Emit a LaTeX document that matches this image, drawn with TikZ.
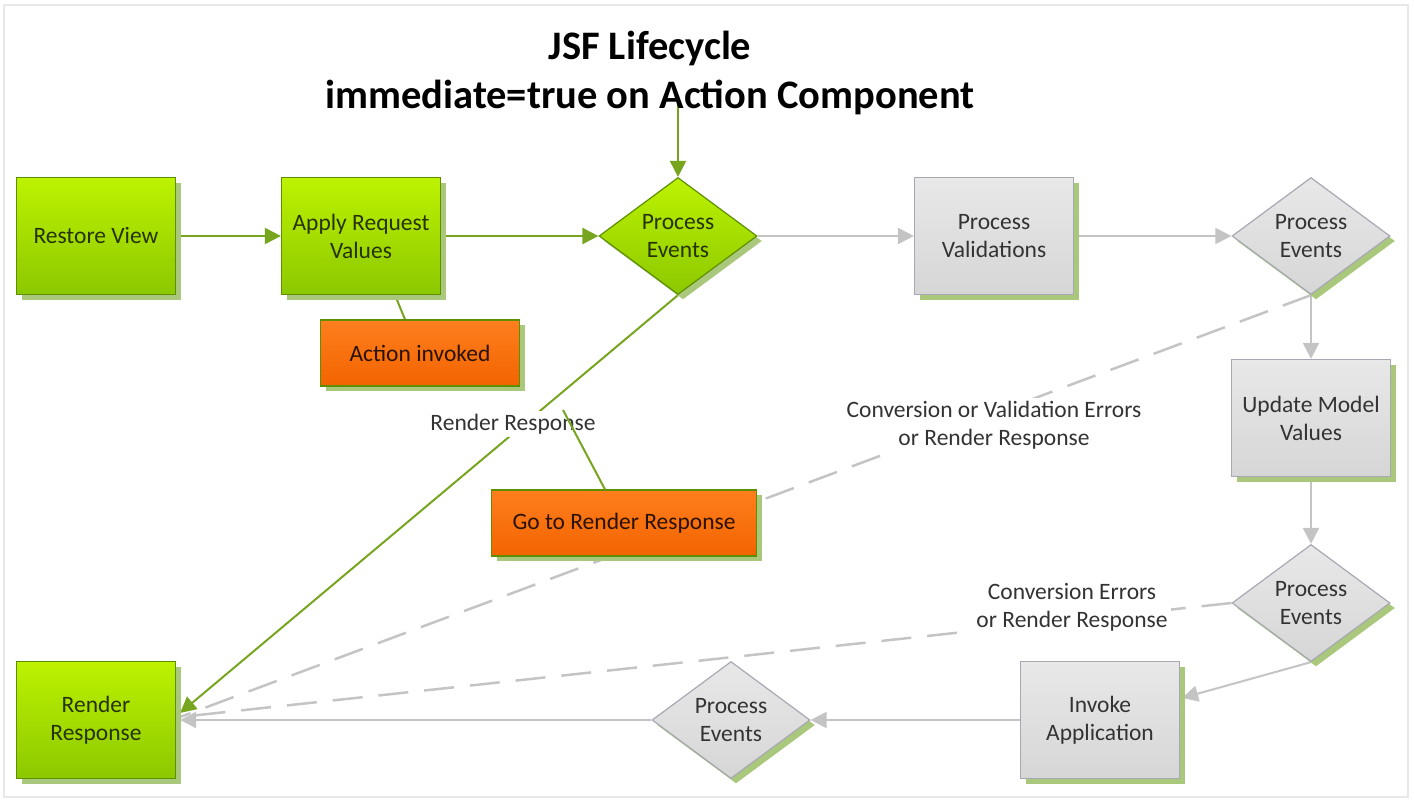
\documentclass[tikz,border=0pt]{standalone}
\usepackage{fontspec}
\setmainfont{Carlito}
\usetikzlibrary{shapes.geometric,arrows.meta,shadows,backgrounds,calc}
\definecolor{gtop}{HTML}{BDF200}
\definecolor{gbot}{HTML}{8CC800}
\definecolor{gborder}{HTML}{5E8F00}
\definecolor{gtext}{HTML}{263300}
\definecolor{gshadow}{HTML}{A9C87C}
\definecolor{otop}{HTML}{FF7E1E}
\definecolor{obot}{HTML}{F26400}
\definecolor{otext}{HTML}{2A1200}
\definecolor{ytop}{HTML}{E8E8E8}
\definecolor{ybot}{HTML}{D6D6D6}
\definecolor{yborder}{HTML}{A8A8B4}
\definecolor{ytext}{HTML}{333333}
\definecolor{gline}{HTML}{78A520}
\definecolor{yline}{HTML}{C4C4C4}
\definecolor{framec}{HTML}{E8E8E8}
\begin{document}
\begin{tikzpicture}[x=1pt,y=-1pt,
  nodefont/.style={font=\fontsize{23.5}{28}\selectfont},
  boxshape/.style={rectangle, minimum width=159pt, minimum height=117pt, inner sep=0pt, align=center, nodefont, line width=1.2pt},
  diashape/.style={diamond, minimum width=158pt, minimum height=117pt, inner sep=0pt, align=center, nodefont, line width=1.2pt},
  shad/.style={drop shadow={shadow xshift=5pt, shadow yshift=-5pt, fill=gshadow, opacity=1}},
  greenstyle/.style={top color=gtop, bottom color=gbot, draw=gborder, text=gtext, shad},
  graystyle/.style={top color=ytop, bottom color=ybot, draw=yborder, text=ytext, shad},
  orangestyle/.style={rectangle, top color=otop, bottom color=obot, draw=gborder, text=otext, shad, inner sep=0pt, nodefont, line width=1.2pt, minimum height=66pt},
  lbl/.style={fill=white, text=ytext, align=center, inner sep=3pt, nodefont},
  garrow/.style={draw=gline, line width=2pt, -{Triangle[length=16pt,width=16pt]}},
  glink/.style={draw=gline, line width=2pt},
  yarrow/.style={draw=yline, line width=2pt, -{Triangle[length=16pt,width=16pt]}},
  ydash/.style={draw=yline, line width=2.5pt, dash pattern=on 30pt off 16pt}
]
\useasboundingbox (0,0) rectangle (1414,808);

% title
\node[font=\bfseries\fontsize{40.5}{49}\selectfont, align=center, text=black] (title) at (650,73) {JSF Lifecycle\\immediate=true on Action Component};
\coordinate (tin) at (678,102);

% main nodes
\node[boxshape, greenstyle] (rv) at (96,236) {Restore View};
\node[boxshape, greenstyle] (arv) at (361,236) {Apply Request\\Values};
\node[diashape, greenstyle] (pe1) at (678,236) {Process\\Events};
\node[boxshape, graystyle] (pv) at (994,236) {Process\\Validations};
\node[diashape, graystyle] (pe2) at (1311,236) {Process\\Events};
\node[boxshape, graystyle] (umv) at (1311,418) {Update Model\\Values};
\node[diashape, graystyle] (pe3) at (1311,603) {Process\\Events};
\node[boxshape, graystyle] (ia) at (1100,720) {Invoke\\Application};
\node[diashape, graystyle] (pe4) at (731,720) {Process\\Events};
\node[boxshape, greenstyle] (rr) at (96,720) {Render\\Response};

% orange notes
\node[orangestyle, minimum width=199pt] (ai) at (420,353) {Action invoked};
\node[orangestyle, minimum width=265pt] (gtrr) at (624,523) {Go to Render Response};

% labels
\node[lbl] (lrr) at (513,424) {Render Response};
\node[lbl] (lcv) at (994,425) {Conversion or Validation Errors\\or Render Response};
\node[lbl] (lce) at (1072,607) {Conversion Errors\\or Render Response};

\coordinate (lrrc) at (563,410);
\coordinate (rrin) at ($(rr.east)+(4,-7)$);
\coordinate (rrin2) at ($(rr.east)+(4,-3)$);
\coordinate (iain) at ($(ia.east)+(2,-22)$);

\begin{scope}[on background layer]
  \draw[draw=framec, line width=2.5pt] (4,5) rectangle (1408,797);
  \draw[garrow] (rv) -- (arv);
  \draw[garrow] (arv) -- (pe1);
  \draw[garrow] (tin) -- (pe1.north);
  \draw[yarrow] (pe1) -- (pv);
  \draw[yarrow] (pv) -- (pe2);
  \draw[yarrow] (pe2) -- (umv);
  \draw[yarrow] (umv) -- (pe3);
  \draw[yarrow] (pe3.south) -- (iain);
  \draw[yarrow] (ia) -- (pe4);
  \draw[yarrow] (pe4) -- ($(rr.east)+(4,0)$);
  \draw[ydash] (pe2.south) -- (rrin2);
  \draw[ydash] (pe3.west) -- (rrin2);
  \draw[garrow] (pe1.south) -- (rrin);
  \draw[glink] ($(arv.south)+(34,0)$) -- ($(ai.north)+(-15,0)$);
\end{scope}
\draw[glink] ($(gtrr.north)+(-19,0)$) -- (lrrc);
\end{tikzpicture}
\end{document}
